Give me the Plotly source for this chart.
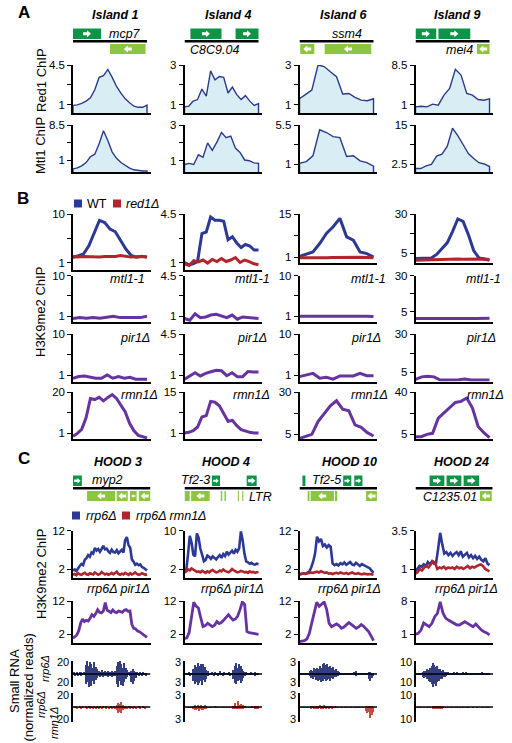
import plotly.graph_objects as go

# ====================== DATA ======================
# Panel A: Red1 / Mtl1 ChIP profiles over four islands (evenly spaced probes)
island_titles = ["Island 1", "Island 4", "Island 6", "Island 9"]
red1_i1 = [0.92, 0.97, 1.1, 1.3, 1.6, 2.3, 3.4, 3.55, 4.1, 3.4, 2.6, 2.0, 1.5, 1.15, 0.85, 0.75, 0.75, 0.95]
red1_i4 = [0.88, 0.92, 1.17, 1.25, 1.78, 1.42, 2.7, 2.25, 2.42, 2.38, 1.58, 1.88, 1.5, 1.25, 1.45, 1.17, 0.95, 1.05]
red1_i6 = [1.29, 1.51, 1.73, 3.0, 2.92, 2.66, 2.41, 1.53, 1.56, 1.36, 1.22, 1.19, 1.29]
red1_i9 = [0.55, 0.68, 0.55, 1.06, 0.87, 2.78, 4.05, 7.67, 6.59, 3.1, 2.78, 1.95, 1.82, 2.08]
mtl1_i1 = [-0.9, -0.7, -0.25, 0.45, 1.7, 2.25, 4.5, 7.25, 5.2, 2.7, 1.35, 0.45, -0.25, -0.75, -1.1, -1.3, -1.35, -1.35]
mtl1_i4 = [0.79, 0.85, 0.79, 1.33, 1.19, 2.0, 1.58, 2.04, 2.58, 2.29, 2.38, 1.71, 1.46, 1.04, 1.0, 0.88, 0.85]
mtl1_i6 = [1.12, 1.31, 1.98, 4.95, 4.64, 4.17, 4.05, 1.9, 1.98, 1.39, 1.2, 0.8]
mtl1_i9 = [1.16, 1.16, 1.98, 2.5, 5.08, 5.7, 8.18, 13.97, 11.6, 8.8, 5.9, 4.36, 3.0, 2.6, 1.78]
red1_chip = [red1_i1, red1_i4, red1_i6, red1_i9]
mtl1_chip = [mtl1_i1, mtl1_i4, mtl1_i6, mtl1_i9]
a_red1_ticks = [[1, 4.5], [1, 3], [1, 3], [1, 8.5]]
a_mtl1_ticks = [[1, 8.5], [1, 3], [1, 5.5], [2.5, 15]]

# Panel B: H3K9me2 ChIP
b_wt = [
    [1.9, 2.3, 2.6, 4.1, 6.4, 8.8, 8.4, 7.2, 6.7, 5.2, 3.5, 2.3, 2.0, 2.15, 2.0],
    [1.0, 0.84, 0.91, 1.07, 3.09, 3.2, 4.28, 4.05, 4.05, 3.98, 2.64, 2.86, 2.41, 2.08, 2.3, 2.19, 1.9, 1.9],
    [1.22, 1.88, 2.64, 5.38, 8.66, 10.84, 13.58, 7.56, 6.47, 2.64, 2.09, 1.0],
    [1.4, 1.4, 1.5, 1.8, 4.1, 8.1, 11.5, 18.7, 26.8, 25.3, 16.8, 6.6, 1.8, 1.2, 0.3],
]
b_red1 = [
    [2.1, 2.0, 2.1, 2.05, 2.1, 2.0, 2.1, 2.05, 2.1, 2.3, 2.2, 2.0, 2.05, 2.1, 2.0],
    [0.91, 0.78, 1.13, 1.04, 1.18, 0.96, 1.22, 1.07, 1.29, 1.07, 1.18, 1.36, 1.0, 1.18, 1.07, 0.91, 0.84],
    [0.75, 0.7, 0.75, 0.8, 0.75, 0.85, 0.9, 0.95, 1.0, 0.9, 0.85, 0.75],
    [0.3, 0.4, 0.5, 0.6, 0.8, 0.9, 1.2, 1.3, 1.2, 1.0, 1.1, 1.3, 1.4, 1.2, 0.8],
]
b_mtl1 = [
    [0.42, 0.64, 0.5, 0.64, 0.5, 0.64, 0.93, 0.64, 0.64, 0.5, 0.64, 0.93],
    [0.78, 0.64, 1.2, 0.86, 0.92, 1.08, 1.14, 1.03, 0.86, 1.08, 0.72, 0.92, 0.86, 0.8, 0.78],
    [0.95, 0.95, 1.0, 0.95, 1.0, 1.05, 1.1, 1.0, 1.0, 0.95, 0.95, 0.9],
    [0.2, 0.25, 0.1, 0.0, 0.1, 0.15, 0.2, 0.1, 0.15, 0.1, 0.2, 0.25],
]
b_pir1 = [
    [0.29, 0.65, 0.79, 0.5, 0.29, 0.29, 1.0, 0.29, 0.65, 0.29, 0.5, 0.08, 0.15, 0.08],
    [0.64, 0.92, 1.19, 0.92, 1.14, 1.28, 1.41, 1.36, 0.94, 1.19, 0.86, 0.86, 1.3, 1.25, 1.25],
    [0.65, 1.0, 1.35, 0.29, 0.5, 0.08, 0.79, 0.79, 0.79, 1.35, 0.86, 0.86],
    [0.1, 1.8, 2.2, 1.8, -0.3, -0.3, -0.3, -0.1, 0.4, -0.3, -0.3, -0.3, -0.3],
]
b_rmn1 = [
    [-0.55, 0.8, 2.7, 8.0, 17.0, 16.5, 17.5, 15.9, 17.5, 18.8, 17.0, 13.6, 10.8, 5.5, 2.0, -0.1, -0.8, -1.3],
    [1.0, 1.23, 1.8, 3.05, 6.46, 6.92, 11.8, 11.5, 10.3, 7.83, 4.98, 5.3, 3.5, 2.14, 1.57, 1.23, 1.0, 1.0],
    [2.4, 3.4, 4.8, 12.4, 17.4, 21.8, 24.8, 19.8, 18.8, 10.4, 9.0, 5.8, 3.8],
    [2.76, 2.76, 4.72, 5.56, 18.2, 22.4, 26.6, 31.3, 32.2, 35.0, 26.6, 11.2, 6.1, 1.9],
]
b_wt_ticks = [[1, 10], [1, 4.5], [1, 15], [5, 30]]
b_mtl1_ticks = [[1, 10], [1, 4.5], [1, 10], [5, 30]]
b_pir1_ticks = [[1, 10], [1, 4.5], [1, 10], [5, 30]]
b_rmn1_ticks = [[1, 20], [1, 15], [5, 30], [5, 40]]

# Panel C: HOODs
hood_titles = ["HOOD 3", "HOOD 4", "HOOD 10", "HOOD 24"]
c_rrp6 = [
    [1.6, 1.9, 1.5, 2.3, 2.8, 3.3, 3.0, 4.4, 4.8, 5.6, 5.2, 6.3, 6.0, 7.5, 6.8, 7.2, 6.5, 7.2, 8.0, 7.1, 7.3, 6.6, 6.2,
     7.0, 6.4, 6.3, 6.9, 6.1, 6.6, 7.0, 6.3, 9.5, 10.3, 8.2, 7.5, 4.5, 3.9, 3.1, 3.4, 3.0, 3.2, 2.5, 2.3, 1.9, 1.6],
    [1.4, 1.8, 5.0, 8.9, 7.5, 5.0, 4.6, 9.4, 8.5, 6.2, 5.0, 3.6, 3.9, 4.8, 4.5, 4.1, 4.6, 4.3, 4.0, 4.5, 4.9, 4.3,
     5.1, 4.7, 5.6, 5.0, 5.5, 5.8, 5.2, 6.0, 5.6, 6.3, 9.8, 8.0, 5.2, 3.6, 3.4, 3.1, 3.3, 3.0, 2.9, 3.1, 3.0],
    [0.7, 0.8, 0.9, 0.8, 1.0, 1.3, 2.4, 3.9, 6.0, 10.4, 9.2, 9.8, 8.0, 8.4, 7.6, 8.2, 7.8, 3.4, 3.0, 3.3, 2.9, 3.5,
     3.2, 3.7, 3.1, 3.4, 3.8, 3.2, 3.0, 3.6, 3.1, 2.8, 3.3, 3.0, 2.6, 2.4, 2.2, 1.6, 1.0],
    [0.85, 1.0, 1.2, 1.15, 1.3, 1.2, 1.45, 1.3, 1.5, 1.35, 1.4, 2.3, 3.35, 2.6, 2.0, 2.1, 1.9, 2.05, 1.85, 2.0, 2.1,
     1.9, 2.15, 1.8, 1.95, 2.05, 1.75, 1.9, 1.7, 1.85, 1.65, 1.8, 1.6, 1.5, 1.7, 1.35, 1.25],
]
c_rrp6_rmn1 = [
    [0.5, 0.7, 0.4, 0.9, 0.6, 0.5, 0.8, 1.0, 0.6, 0.5, 0.9, 0.7, 0.6, 1.1, 0.8, 0.5, 0.7, 1.2, 0.9, 0.6, 0.8, 0.5,
     0.7, 1.0, 0.6, 0.9, 1.3, 0.7, 0.5, 0.8, 0.6, 1.0, 0.7, 0.5, 0.9, 0.6, 0.8, 1.1, 0.7, 0.5, 0.6, 0.9, 0.7, 0.5, 0.6],
    [1.3, 1.5, 1.9, 1.7, 2.1, 1.8, 1.6, 1.4, 1.5, 1.3, 1.6, 1.4, 1.2, 1.5, 1.3, 1.6, 1.8, 1.5, 1.3, 1.4, 1.7, 1.5,
     1.9, 1.6, 1.4, 1.3, 1.6, 2.0, 1.7, 1.5, 1.3, 1.4, 1.6, 1.5, 1.3, 1.4, 1.2, 1.5, 1.3, 1.4, 1.2, 1.3, 1.4],
    [0.5, 0.6, 0.8, 0.7, 0.9, 1.0, 1.1, 1.0, 1.2, 1.3, 1.1, 1.4, 1.2, 1.0, 1.1, 0.8, 0.9, 0.7, 0.9, 1.0, 0.8, 1.1,
     0.9, 0.8, 1.0, 0.7, 0.9, 1.1, 0.8, 0.7, 0.9, 0.8, 0.6, 0.8, 0.7, 0.6, 0.7, 0.5, 0.5],
    [0.7, 0.8, 1.0, 0.9, 1.1, 1.2, 1.1, 1.3, 1.5, 1.4, 1.0, 1.1, 1.05, 1.15, 1.0, 1.1, 1.05, 1.1, 1.0, 1.15, 1.05,
     1.1, 1.0, 1.1, 1.2, 1.05, 1.15, 1.1, 1.2, 1.25, 1.3, 1.2, 1.0, 0.9, 0.85],
]
c_rrp6_pir1 = [
    [0.8, 1.2, 1.8, 3.0, 5.3, 6.6, 5.8, 6.2, 6.0, 6.8, 7.9, 7.4, 8.2, 9.4, 8.6, 8.4, 9.0, 11.5, 9.2, 8.9, 8.5, 9.3,
     8.7, 8.5, 9.0, 8.8, 8.6, 9.2, 9.4, 8.9, 9.0, 5.0, 3.8, 3.6, 3.0, 2.8, 2.4, 2.0, 1.5, 1.1],
    [0.8, 0.9, 2.5, 7.3, 11.6, 10.5, 9.9, 7.0, 4.3, 4.6, 5.3, 4.8, 4.3, 4.7, 5.8, 5.2, 5.6, 6.3, 7.2, 7.9, 7.0, 6.3,
     6.6, 7.5, 9.4, 11.7, 11.0, 2.8, 2.5, 2.3, 2.2, 2.1, 2.0],
    [-0.2, 0.0, 0.1, 0.6, 2.3, 5.5, 8.4, 11.6, 10.4, 11.0, 11.7, 9.5, 5.3, 4.3, 4.8, 5.1, 4.6, 3.8, 4.2, 4.8, 5.5,
     5.0, 4.3, 3.8, 4.2, 4.9, 4.4, 3.6, 2.8, 1.5, 0.1],
    [1.0, 1.2, 1.9, 3.4, 3.0, 2.6, 3.3, 4.7, 5.4, 7.8, 5.5, 4.4, 4.0, 3.7, 3.3, 3.0, 2.95, 3.3, 3.65, 3.3, 2.9, 2.6,
     3.16, 2.5, 1.9, 1.55, 1.3, 0.85],
]
c_rrp6_ticks = [[2, 12], [2, 10], [2, 12], [1, 3.5]]
c_pir1_ticks = [[2, 12], [2, 12], [2, 12], [1, 8]]

# Small RNA (normalized reads), plus strand up / minus strand down, bins across each HOOD
rna_scale = [20, 3, 3, 10]
rna_rrp6_plus = [
    [2, 1, 3, 1, 2, 2, 1, 3, 14, 20, 12, 18, 16, 10, 19, 11, 8, 4, 3, 6, 2, 5, 3, 4, 2, 3, 5, 2, 4,
     12, 18, 20, 15, 10, 17, 9, 6, 2, 1, 5, 7, 4, 3, 2, 1, 2, 1, 2, 1, 1],
    [0.2, 0.1, 0.3, 0.1, 0.2, 1.2, 2.0, 1.6, 2.5, 1.8, 2.2, 1.4, 2.4, 1.7, 1.0, 0.6, 0.2, 0.1, 0.3, 0.1, 0.5, 0.2,
     0.1, 0.6, 0.2, 0.1, 0.4, 0.2, 0.1, 0.3, 0.1, 0.2, 1.0, 1.8, 2.5, 1.5, 2.2, 1.9, 1.2, 0.8, 0.5, 0.3, 0.2, 0.1,
     0.3, 0.1, 0.2, 0.4, 0.1, 0.2],
    [0.1, 0.2, 0.1, 0.1, 0.2, 0.1, 0.6, 1.0, 0.8, 1.3, 1.1, 1.5, 1.2, 1.8, 1.4, 2.2, 2.6, 2.0, 2.4, 1.7, 1.9, 1.3,
     1.6, 1.0, 1.2, 0.7, 0.4, 0.1, 0.2, 0.1, 0.1, 0.2, 0.1, 0.1, 0.2, 0.1, 0.3, 0.6, 0.2, 0.1, 0.2, 0.1, 0.1, 0.2,
     0.1, 0.2, 0.4, 0.3, 0.2, 0.1],
    [0.5, 0.3, 0.6, 0.4, 1.5, 2.5, 2.0, 3.5, 3.0, 4.5, 6.0, 8.8, 7.0, 5.5, 6.5, 4.0, 3.5, 2.5, 3.0, 1.8, 1.2, 0.8,
     0.3, 0.5, 0.2, 0.8, 0.4, 1.2, 0.3, 0.6, 0.2, 0.9, 0.4, 1.0, 0.3, 0.5, 0.7, 0.2, 0.3, 0.2, 0.4, 0.2, 0.6, 0.3,
     1.0, 0.4, 0.2, 0.3, 0.2, 0.3],
]
rna_rrp6_minus = [
    [1, 2, 1, 2, 1, 2, 1, 1, 16, 12, 20, 14, 18, 11, 15, 9, 6, 3, 4, 2, 5, 3, 2, 4, 3, 2, 4, 3, 2,
     15, 20, 11, 17, 19, 12, 8, 5, 1, 2, 12, 16, 10, 6, 1, 2, 1, 2, 1, 1, 2],
    [0.1, 0.2, 0.1, 0.3, 0.1, 1.5, 2.2, 1.8, 2.6, 2.0, 1.6, 2.5, 1.3, 1.9, 1.1, 0.5, 0.1, 0.2, 0.1, 0.3, 0.1, 0.2,
     0.4, 0.1, 0.2, 0.3, 0.1, 0.2, 0.1, 0.2, 0.3, 0.1, 1.2, 2.0, 2.4, 1.7, 1.4, 2.1, 1.5, 0.9, 0.4, 0.2, 0.1, 0.2,
     0.1, 0.2, 0.1, 0.3, 0.2, 0.1],
    [0.1, 0.1, 0.2, 0.1, 0.1, 0.2, 0.5, 0.9, 1.2, 0.8, 1.4, 1.1, 1.6, 1.3, 1.9, 1.5, 1.2, 1.7, 1.4, 1.1, 1.5, 0.9,
     1.2, 0.8, 0.6, 0.4, 0.2, 0.1, 0.1, 0.2, 0.1, 0.1, 0.2, 0.1, 0.1, 0.2, 0.1, 0.4, 0.1, 0.1, 0.2, 0.1, 0.1, 0.1,
     0.2, 0.1, 1.2, 1.6, 0.9, 0.5],
    [0.4, 0.6, 0.3, 0.5, 2.0, 3.0, 2.5, 4.0, 5.0, 6.5, 8.0, 10.0, 7.5, 9.0, 6.0, 5.0, 4.0, 3.5, 2.5, 2.0, 1.0, 0.6,
     0.3, 0.2, 0.4, 0.5, 0.3, 0.6, 0.2, 0.4, 0.3, 0.5, 0.2, 0.4, 0.3, 0.2, 0.3, 0.2, 0.2, 0.3, 0.2, 0.1, 0.3, 0.2,
     0.4, 0.2, 0.3, 0.2, 0.1, 0.2],
]
rna_rmn1_plus = [
    [0, 1, 0, 0, 1, 0, 1, 0, 1, 0, 1, 0, 1, 0, 1, 0, 1, 0, 1, 0, 1, 0, 1, 0, 0, 1, 0, 1, 0,
     3, 6, 5, 7, 4, 2, 1, 0, 1, 0, 1, 0, 1, 0, 0, 1, 0, 0, 1, 0, 0],
    [0, 0.1, 0, 0.1, 0, 0.3, 0.5, 0.4, 0.6, 0.3, 0.5, 0.4, 0.3, 0.5, 0.2, 0.1, 0, 0.1, 0, 0, 0.2, 0, 0.1, 0, 0,
     0.1, 0, 0, 0.1, 0, 0, 0.1, 0.4, 0.9, 0.3, 1.3, 0.5, 0.7, 0.3, 0.6, 0.2, 0.1, 0, 0.1, 0, 0.2, 0, 0.3, 0.4, 0.2],
    [0, 0, 0.1, 0, 0.1, 0, 0, 0.2, 0.3, 0.1, 0.4, 0.2, 0.3, 0.5, 0.2, 0.3, 0.6, 0.2, 0.4, 0.3, 0.2, 0.3, 0.1, 0.2,
     0.1, 0.1, 0, 0, 0.1, 0, 0, 0.1, 0, 0, 0.1, 0, 0, 0.1, 0, 0, 0.1, 0, 0.1, 0, 0.3, 0.2, 0.4, 0.3, 0.2, 0.1],
    [0, 0.1, 0, 0.1, 0, 0.1, 0, 0.1, 0, 0.1, 0, 0.6, 1.0, 0.8, 1.2, 0.7, 0.9, 0.5, 0.4, 0, 0.1, 0, 0, 0.1, 0, 0,
     0.1, 0, 0, 0.1, 0, 0, 0.1, 0, 0, 0.1, 0, 0, 0.1, 0, 0, 0.1, 0, 0, 0.1, 0, 0, 0.1, 0, 0],
]
rna_rmn1_minus = [
    [0, 0, 1, 0, 0, 1, 0, 0, 0, 1, 0, 1, 0, 1, 0, 1, 0, 1, 0, 1, 0, 0, 1, 0, 1, 0, 1, 0, 1,
     4, 8, 6, 7, 3, 2, 1, 1, 0, 1, 0, 1, 0, 1, 0, 0, 1, 0, 0, 1, 0],
    [0, 0, 0.1, 0, 0.1, 0.4, 0.6, 0.5, 0.3, 0.7, 0.4, 0.5, 0.6, 0.3, 0.2, 0.1, 0.1, 0, 0.1, 0, 0, 0.1, 0, 0, 0.1,
     0, 0.1, 0, 0, 0.1, 0, 0, 0.2, 0.3, 0.2, 0.4, 0.3, 0.2, 0.3, 0.2, 0.1, 0.1, 0, 0, 0.1, 0, 0.1, 0.2, 0.3, 0.2],
    [0, 0.1, 0, 0, 0, 0.1, 0, 0.2, 0.1, 0.3, 0.2, 0.1, 0.2, 0.1, 0.3, 0.2, 0.1, 0.2, 0.1, 0.2, 0.1, 0.2, 0.1, 0.1,
     0.1, 0, 0, 0.1, 0, 0, 0.1, 0, 0, 0.1, 0, 0, 0.1, 0, 0, 0.1, 0, 0, 0.1, 0, 0.8, 1.2, 0.9, 2.2, 1.6, 1.0],
    [0, 0, 0.1, 0, 0, 0.1, 0, 0, 0.1, 0, 0, 0.8, 1.1, 0.6, 0.9, 1.0, 0.5, 0.7, 0.3, 0, 0, 0.1, 0, 0, 0.1, 0, 0,
     0.1, 0, 0, 0, 0.1, 0, 0, 0.1, 0, 0, 0, 0.1, 0, 0, 0.1, 0, 0, 0, 0.1, 0, 0, 0.1, 0],
]

# Gene models (region coordinates, 0-100 scale)
island_fwd = [[[0, 38]], [[8, 50], [69, 100]], [], [[0, 28], [31, 74]]]
island_rev = [[[50, 98]], [], [[1, 20], [34, 97]], [[83, 100]]]
island_span = [[0, 100], [0, 100], [0, 100], [0, 100]]
island_genes = [("mcp7", 70, "up"), ("C8C9.04", 41, "down"), ("ssm4", 64, "up"), ("mei4", 60, "down")]
hood_fwd = [[[0, 12]], [[37, 48], [84, 97.5]], [[4, 8], [59, 70], [74, 85]], [[19, 39], [42, 62], [65, 86]]]
hood_rev = [[[19, 57], [59, 74], [77, 86], [89, 104.5]],
            [[0, 7], [9, 34], [49, 51], [54, 56], [72, 73.5], [78, 79.5]],
            [[11, 13.5], [15, 46.5], [48, 51], [90, 104.5]],
            [[87, 103]]]
hood_span = [[0, 104.7], [0, 102], [0, 104.7], [0, 104]]
hood_genes = [("myp2", 46, "up"), ("Tf2-3", 15, "up"), ("LTR", 103, "down"), ("Tf2-5", 36, "up"),
              ("C1235.01", 47, "down")]
hood_gene_col = [0, 1, 1, 2, 3]

# ====================== STYLE / LAYOUT ======================
W, H = 512, 743
FONT = "Liberation Sans, Arial, Helvetica, sans-serif"
COL_L = [73, 184.5, 299.5, 415.5]
COL_W = 77.5
X_RANGE = [0, 104.7]
PX2X = 100 / 74.0  # data units per pixel
TICK_SIZE = 11.5

BLUE_A = "#2b3a8c"
FILL_A = "#d8eef4"
BLUE = "#2c3a96"
RED = "#b0262c"
PURPLE = "#6633a0"
NAVY = "#1d2a72"
RNA_RED = "#c23a2c"
DKGREEN = "#0c9447"
LTGREEN = "#8cc63e"

fig = go.Figure()
k_counter = [0]
shapes = []
annotations = []


def ref(k, a):
    return a if k == 1 else f"{a}{k}"


def fmt(v):
    return str(int(v)) if float(v).is_integer() else str(v)


def text(x, y, s, size=12, xanchor="center", angle=0, xref="paper", color="black"):
    annotations.append(dict(x=x if xref != "paper" else x / W, y=1 - y / H, xref=xref, yref="paper", text=s,
                            showarrow=False, xanchor=xanchor, yanchor="middle", textangle=angle,
                            font=dict(family=FONT, size=size, color=color)))


def new_axes(col, top, bpx, bottom, ticks=None, rna=None, lab_y=None):
    k_counter[0] += 1
    k = k_counter[0]
    if rna is None:
        B, T = ticks
        ymin = B - (bottom - bpx) * (T - B) / (bpx - top)
        yr = [ymin, T]
        tv = [B, (B + T) / 2, T]
        tt = [fmt(B), "", fmt(T)]
        tdir, tlen = "outside", 4
        xline = True
        show_lab = True
    else:
        yr = [-rna, rna]
        tv = [-rna, rna]
        tt = ["", ""]
        tdir, tlen = "inside", 3
        xline = False
        show_lab = False
        text(COL_L[col] - 2, lab_y[0], fmt(rna), size=11, xanchor="right")
        text(COL_L[col] - 2, lab_y[1], fmt(rna), size=11, xanchor="right")
    xa = dict(domain=[COL_L[col] / W, (COL_L[col] + COL_W) / W], range=X_RANGE, anchor=ref(k, "y"),
              showline=xline, linecolor="black", linewidth=1.5, ticks="", showticklabels=False,
              showgrid=False, zeroline=False, automargin=False, fixedrange=True)
    ya = dict(domain=[1 - bottom / H, 1 - top / H], range=yr, anchor=ref(k, "x"), showline=True,
              linecolor="black", linewidth=1.5, ticks=tdir, ticklen=tlen, tickwidth=1.2, tickcolor="black",
              tickvals=tv, ticktext=tt, showticklabels=show_lab, showgrid=False, zeroline=False,
              automargin=False, fixedrange=True, tickfont=dict(family=FONT, size=TICK_SIZE, color="black"))
    fig.update_layout(**{("xaxis" if k == 1 else f"xaxis{k}"): xa, ("yaxis" if k == 1 else f"yaxis{k}"): ya})
    return k, yr


def xs_for(vals):
    n = len(vals)
    return [100.0 * i / (n - 1) for i in range(n)]


def add_line(k, vals, color, width):
    fig.add_trace(go.Scatter(x=xs_for(vals), y=vals, mode="lines", line=dict(color=color, width=width),
                             xaxis=ref(k, "x"), yaxis=ref(k, "y"), showlegend=False, hoverinfo="skip"))


def add_filled(k, vals, yr):
    xs = xs_for(vals)
    low = yr[0] - (yr[1] - yr[0])
    fig.add_trace(go.Scatter(x=[xs[0]] + xs + [xs[-1]], y=[low] + vals + [low], mode="lines", fill="toself",
                             fillcolor=FILL_A, line=dict(color=BLUE_A, width=1.4),
                             xaxis=ref(k, "x"), yaxis=ref(k, "y"), showlegend=False, hoverinfo="skip"))


def gene_model(k, span, fwd, rev, yc_px):
    xr = ref(k, "x")
    for boxes, y0, y1, col, d in [(fwd, yc_px - 12.8, yc_px - 2.3, DKGREEN, 1),
                                  (rev, yc_px + 2.7, yc_px + 12.7, LTGREEN, -1)]:
        for (a, b) in boxes:
            shapes.append(dict(type="rect", xref=xr, yref="paper", x0=a, x1=b, y0=1 - y1 / H, y1=1 - y0 / H,
                               fillcolor=col, line=dict(width=0), layer="above"))
            wpx = (b - a) / PX2X
            if wpx >= 6.5:
                s = min(4.0, (wpx - 2.5) / 2)
                cx = (a + b) / 2
                cy = (y0 + y1) / 2
                pts = [(-s, -0.38 * s), (0, -0.38 * s), (0, -0.85 * s), (s, 0), (0, 0.85 * s), (0, 0.38 * s),
                       (-s, 0.38 * s)]
                path = "M " + " L ".join(f"{cx + d * dx * PX2X:.3f},{1 - (cy + dy) / H:.5f}" for dx, dy in pts) + " Z"
                shapes.append(dict(type="path", xref=xr, yref="paper", path=path, fillcolor="white",
                                   line=dict(width=0), layer="above"))
    shapes.append(dict(type="line", xref=xr, yref="paper", x0=span[0], x1=span[1], y0=1 - yc_px / H,
                       y1=1 - yc_px / H, line=dict(color="black", width=2.6), layer="above"))


# ---------- Panel A ----------
A1 = dict(top=65, bpx=[104.5] * 4, bottom=[113] * 4)
A2 = dict(top=125, bpx=[160, 160.7, 164.3, 164.3], bottom=[172] * 4)
a_keys = []
for c in range(4):
    k, yr = new_axes(c, A1["top"], A1["bpx"][c], A1["bottom"][c], a_red1_ticks[c])
    add_filled(k, red1_chip[c], yr)
    a_keys.append(k)
for c in range(4):
    k, yr = new_axes(c, A2["top"], A2["bpx"][c], A2["bottom"][c], a_mtl1_ticks[c])
    add_filled(k, mtl1_chip[c], yr)

for c in range(4):
    gene_model(a_keys[c], island_span[c], island_fwd[c], island_rev[c], 41.3)
    name, gx, pos = island_genes[c]
    text(gx, 33.5 if pos == "up" else 49.5, f"<i>{name}</i>", size=12.5, xref=ref(a_keys[c], "x"))

island_title_x = [115, 228, 344, 457]
for c in range(4):
    text(island_title_x[c], 15, f"<b><i>{island_titles[c]}</i></b>", size=12.5)

# ---------- Panel B ----------
B_rows = [
    dict(top=214, bpx=[262.5, 262.5, 257, 253], bottom=[270, 270, 263, 263]),
    dict(top=275.5, bpx=[316, 316, 316, 311.5], bottom=[322] * 4),
    dict(top=334, bpx=[375, 375, 375, 372], bottom=[381.5] * 4),
    dict(top=392, bpx=[433, 433, 434, 434], bottom=[439] * 4),
]
for c in range(4):
    r = B_rows[0]
    k, yr = new_axes(c, r["top"], r["bpx"][c], r["bottom"][c], b_wt_ticks[c])
    add_line(k, b_wt[c], BLUE, 3)
    add_line(k, b_red1[c], RED, 3)
for ri, (series, tks) in enumerate([(b_mtl1, b_mtl1_ticks), (b_pir1, b_pir1_ticks), (b_rmn1, b_rmn1_ticks)]):
    r = B_rows[ri + 1]
    for c in range(4):
        k, yr = new_axes(c, r["top"], r["bpx"][c], r["bottom"][c], tks[c])
        add_line(k, series[c], PURPLE, 3)

mut_labels = [("mtl1-1", 279, [147, 272, 388, 503]), ("pir1Δ", 337.5, [152, 269, 383, 498]),
              ("rmn1Δ", 395, [160, 272, 390, 506])]
for lab, yy, xs_r in mut_labels:
    for c in range(4):
        text(xs_r[c], yy, f"<i>{lab}</i>", size=12.5, xanchor="right")

# legend B
shapes.append(dict(type="rect", xref="paper", yref="paper", x0=74 / W, x1=82 / W, y0=1 - 207.5 / H,
                   y1=1 - 199.5 / H, fillcolor=BLUE, line=dict(width=0)))
shapes.append(dict(type="rect", xref="paper", yref="paper", x0=113 / W, x1=121 / W, y0=1 - 207.5 / H,
                   y1=1 - 199.5 / H, fillcolor=RED, line=dict(width=0)))
text(85, 203.5, "WT", size=12.5, xanchor="left")
text(124, 203.5, "<i>red1Δ</i>", size=12.5, xanchor="left")

# ---------- Panel C ----------
C_rows = [dict(top=530.5, bpx=[569] * 4, bottom=[578] * 4), dict(top=601, bpx=[634.3] * 4, bottom=[643] * 4)]
c_keys = []
for c in range(4):
    r = C_rows[0]
    k, yr = new_axes(c, r["top"], r["bpx"][c], r["bottom"][c], c_rrp6_ticks[c])
    add_line(k, c_rrp6[c], BLUE, 2.6)
    add_line(k, c_rrp6_rmn1[c], RED, 2.6)
    c_keys.append(k)
for c in range(4):
    r = C_rows[1]
    k, yr = new_axes(c, r["top"], r["bpx"][c], r["bottom"][c], c_pir1_ticks[c])
    add_line(k, c_rrp6_pir1[c], PURPLE, 2.8)

for c in range(4):
    text([152, 266, 383, 500][c], 589, "<i>rrp6Δ pir1Δ</i>", size=12.5, xanchor="right")

# small RNA tracks
RNA_rows = [dict(top=661, bottom=687, lab=(662, 681.5)), dict(top=692.5, bottom=721.5, lab=(694.5, 719))]
for ri, (plus, minus, color) in enumerate([(rna_rrp6_plus, rna_rrp6_minus, NAVY),
                                            (rna_rmn1_plus, rna_rmn1_minus, RNA_RED)]):
    r = RNA_rows[ri]
    for c in range(4):
        k, yr = new_axes(c, r["top"], None, r["bottom"], rna=rna_scale[c], lab_y=r["lab"])
        p = plus[c]
        m = minus[c]
        xb = [1 + 2 * i for i in range(len(p))]
        fig.add_trace(go.Bar(x=xb, y=p, width=1.4, marker=dict(color=color, line=dict(width=0)), opacity=0.9,
                             xaxis=ref(k, "x"), yaxis=ref(k, "y"), showlegend=False, hoverinfo="skip"))
        xm = [1 + 2 * i for i in range(len(m))]
        fig.add_trace(go.Bar(x=xm, y=[-v for v in m], width=1.4, marker=dict(color=color, line=dict(width=0)),
                             opacity=0.9, xaxis=ref(k, "x"), yaxis=ref(k, "y"), showlegend=False,
                             hoverinfo="skip"))
        shapes.append(dict(type="line", xref=ref(k, "x"), yref=ref(k, "y"), x0=X_RANGE[0], x1=X_RANGE[1],
                           y0=0, y1=0, line=dict(color="black", width=1.6), layer="above"))

for c in range(4):
    gene_model(c_keys[c], hood_span[c], hood_fwd[c], hood_rev[c], 488.3)
for (name, gx, pos), c in zip(hood_genes, hood_gene_col):
    text(gx, 479.5 if pos == "up" else 497, f"<i>{name}</i>", size=12.5, xref=ref(c_keys[c], "x"))

hood_title_x = [118, 226, 349, 461]
for c in range(4):
    text(hood_title_x[c], 462, f"<b><i>{hood_titles[c]}</i></b>", size=12.5)

# legend C
shapes.append(dict(type="rect", xref="paper", yref="paper", x0=72 / W, x1=80 / W, y0=1 - 519.5 / H,
                   y1=1 - 511.5 / H, fillcolor=BLUE, line=dict(width=0)))
shapes.append(dict(type="rect", xref="paper", yref="paper", x0=122 / W, x1=130 / W, y0=1 - 519.5 / H,
                   y1=1 - 511.5 / H, fillcolor=RED, line=dict(width=0)))
text(84, 515.5, "<i>rrp6Δ</i>", size=12.5, xanchor="left")
text(134, 515.5, "<i>rrp6Δ rmn1Δ</i>", size=12.5, xanchor="left")

# panel letters and side labels
text(24, 13, "<b>A</b>", size=17)
text(23, 198, "<b>B</b>", size=17)
text(24, 458, "<b>C</b>", size=17)
text(41, 80, "Red1 ChIP", size=13, angle=-90)
text(41, 146, "Mtl1 ChIP", size=13, angle=-90)
text(41, 312, "H3K9me2 ChIP", size=13, angle=-90)
text(41, 574, "H3K9me2 ChIP", size=13, angle=-90)
text(14, 681, "Small RNA", size=13, angle=-90)
text(27.5, 688, "(normalized reads)", size=13, angle=-90)
text(45, 669, "<i>rrp6Δ</i>", size=11, angle=-90)
text(41, 705, "<i>rrp6Δ</i>", size=11, angle=-90)
text(54, 723, "<i>rmn1Δ</i>", size=11, angle=-90)

fig.update_layout(width=W, height=H, margin=dict(l=0, r=0, t=0, b=0), paper_bgcolor="white",
                  plot_bgcolor="rgba(0,0,0,0)", barmode="overlay", bargap=0, shapes=shapes,
                  annotations=annotations, showlegend=False, font=dict(family=FONT, color="black"))

fig.write_html("out.html", config={"displayModeBar": False},
               post_script="document.body.style.margin='0px';document.body.style.overflow='hidden';")
